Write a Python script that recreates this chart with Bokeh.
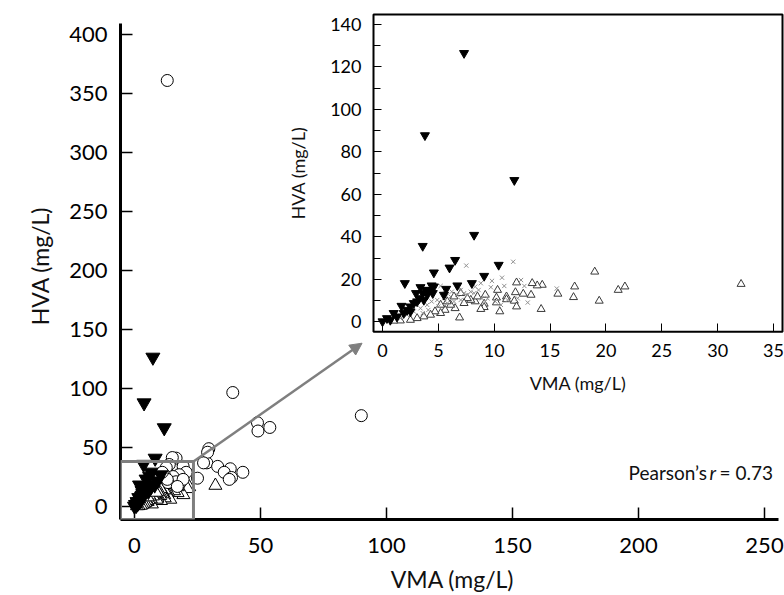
from bokeh.plotting import figure
from bokeh.models import (Range1d, LinearAxis, FixedTicker, BoxAnnotation, Arrow,
                          NormalHead, Label)
from bokeh.embed import file_html
from bokeh.resources import INLINE

# ---------------- data (mg/L) ----------------
down_vma = [7.3, 3.8, 11.8, 8.2, 3.6, 6.5, 6.0, 4.6, 10.4, 9.1, 2.0, 8.0, 6.7, 5.7, 4.4, 3.4,
            3.9, 5.5, 4.0, 4.5, 3.3, 2.8, 1.7, 2.2, 1.0, 0.4, 0.0, 1.3, 2.5, 3.1, 3.7, 1.9,
            3.6, 4.2, 0.7, 2.5, 4.6, 3.0]
down_hva = [126.5, 87.8, 66.7, 40.9, 35.7, 29.1, 25.5, 23.2, 26.8, 21.6, 18.2, 18.2, 17.1, 15.5,
            17.1, 16.3, 15.0, 12.7, 12.7, 13.5, 11.1, 8.8, 7.5, 5.6, 4.1, 1.7, 0.2, 2.5, 7.2,
            9.6, 10.3, 4.1, 13.5, 15.0, 0.9, 4.9, 16.6, 13.5]

up_vma = [32.1, 19.0, 21.7, 21.1, 19.4, 17.2, 17.1, 15.7, 14.3, 13.85, 13.4, 13.3, 12.6, 14.2,
          12.0, 11.9, 11.8, 12.0, 11.1, 11.1, 10.3, 10.2, 10.2, 10.5, 9.2, 9.1, 9.1, 8.8, 8.3,
          7.9, 7.6, 7.3, 6.9, 6.5, 6.1, 5.6, 5.2, 4.7, 4.3, 3.7, 3.1, 2.5, 1.6, 1.0, 6.4, 5.8,
          7.0, 5.2, 8.5]
up_hva = [17.8, 23.6, 16.6, 15.0, 9.9, 16.6, 11.6, 13.2, 17.4, 17.1, 18.2, 12.7, 13.2, 6.0,
          18.5, 13.9, 9.9, 7.2, 11.9, 10.6, 15.0, 11.4, 9.1, 4.9, 12.7, 8.5, 6.9, 6.0, 9.6,
          10.3, 11.1, 8.8, 2.0, 6.4, 8.0, 5.6, 4.1, 4.9, 3.3, 2.5, 1.7, 0.9, 0.6, 0.5, 11.9,
          9.6, 13.5, 8.0, 11.9]

cross_vma = [11.7, 7.5, 10.7, 9.8, 9.7, 12.4, 12.7, 13.0, 15.6, 10.9, 10.1, 8.8, 8.3, 5.2,
             10.6, 9.4, 8.6, 7.9, 7.3, 6.7, 6.1, 5.5, 4.9, 4.4, 4.0, 3.4, 2.8, 2.2, 1.6, 7.0,
             7.6, 8.2, 5.8, 6.4, 5.0, 4.1, 3.6, 8.9, 9.2, 11.2, 12.1, 7.0, 6.2, 5.6]
cross_hva = [28.3, 26.5, 20.8, 19.3, 16.3, 19.7, 16.9, 9.1, 15.7, 16.9, 9.6, 18.2, 16.6, 16.9,
             8.0, 11.1, 15.0, 14.2, 13.5, 12.7, 11.9, 11.1, 10.3, 9.6, 8.0, 6.4, 4.9, 3.3, 1.7,
             10.3, 12.7, 13.5, 8.8, 9.6, 7.2, 5.6, 4.1, 11.1, 9.6, 10.3, 11.1, 15.0, 14.2, 13.5]

circ_vma = [13, 39, 90, 48.8, 49, 53.7, 29.5, 28.7, 33, 38, 35.6, 38.5, 37.6, 43, 25, 16.5, 19,
            15, 13.8, 12.6, 19.3, 20.5, 17.7, 15.3, 11.8, 16.5, 19.3, 13.3, 29, 27.4, 17, 13, 11]
circ_hva = [361, 96.6, 77, 71, 64, 67, 49, 37, 34, 32, 29, 24.6, 23, 29, 24, 41, 29, 41.5, 35.6,
            33, 34, 29, 27, 25.4, 27, 21, 23, 20.3, 46, 37, 17, 23, 29]

main_xticks = [0, 50, 100, 150, 200, 250]
main_yticks = [0, 50, 100, 150, 200, 250, 300, 350, 400]
inset_xticks = [0, 5, 10, 15, 20, 25, 30, 35]
inset_yticks = [0, 20, 40, 60, 80, 100, 120, 140]
inset_yminor = [10, 30, 50, 70, 90, 110, 130]
x_label = "VMA (mg/L)"
y_label = "HVA (mg/L)"
pearson_r = "0.73"

# ---------------- layout (canvas pixels) ----------------
W, H = 784, 595
FL, FR, FT, FB = 120, 784, 12, 520         # main frame
X0, XS = 134, 2.52                          # pixel of x=0, px per unit
Y0, YS = 507, 1.1825                        # pixel of y=0, px per unit
x_start, x_end = (FL - X0) / XS, (FR - X0) / XS
y_start, y_end = -(FB - Y0) / YS, (Y0 - FT) / YS

IL, IR, IT, IB = 373, 782, 14, 332          # inset frame
IX0, IXS = 382, 11.171                      # inset pixel of x=0, px per unit
IY0, IYS = 322, 2.1286
INX = ((IL - IX0) / IXS, (IR - IX0) / IXS)
INY = (-(IB - IY0) / IYS, (IY0 - IT) / IYS)
ix_start = INX[0] - (IL - FL) / IXS
ix_end = INX[1] + (FR - IR) / IXS
iy_start = INY[0] - (FB - IB) / IYS
iy_end = INY[1] + (IT - FT) / IYS

FONT = "Lato"
TXT = "#111111"

p = figure(width=W, height=H, x_range=Range1d(x_start, x_end), y_range=Range1d(y_start, y_end),
           output_backend="svg", toolbar_location=None,
           min_border_left=FL, min_border_right=W - FR, min_border_top=FT, min_border_bottom=H - FB)
p.outline_line_color = None
p.grid.visible = False
p.background_fill_color = "white"
p.extra_x_ranges = {"ix": Range1d(ix_start, ix_end)}
p.extra_y_ranges = {"iy": Range1d(iy_start, iy_end)}

# main axes
for ax in (p.xaxis[0], p.yaxis[0]):
    ax.axis_line_width = 3
    ax.axis_line_color = "black"
    ax.major_tick_in = 12
    ax.major_tick_out = 0
    ax.major_tick_line_width = 1.5
    ax.minor_tick_line_color = None
    ax.major_label_text_font = FONT
    ax.major_label_text_font_size = "22px"
    ax.major_label_text_color = "black"
    ax.axis_label_text_font = FONT
    ax.axis_label_text_font_size = "23px"
    ax.axis_label_text_font_style = "normal"
    ax.axis_label_text_color = TXT
p.xaxis[0].ticker = FixedTicker(ticks=main_xticks)
p.xaxis[0].bounds = (x_start, (778 - X0) / XS)
p.xaxis[0].major_label_standoff = 18
p.xaxis[0].axis_label = x_label
p.xaxis[0].axis_label_standoff = 9
p.yaxis[0].ticker = FixedTicker(ticks=main_yticks)
p.yaxis[0].bounds = (y_start, (Y0 - 23) / YS)
p.yaxis[0].major_label_standoff = 13
p.yaxis[0].axis_label = y_label
p.yaxis[0].axis_label_standoff = 12

# main data
p.scatter(cross_vma, cross_hva, marker="x", size=8, line_color="#888888")
p.scatter(up_vma, up_hva, marker="triangle", size=13, fill_color="white", line_color="black",
          line_width=1)
p.scatter(circ_vma, circ_hva, marker="circle", size=12, fill_color="white", line_color="black",
          line_width=1)
p.scatter(down_vma, down_hva, marker="inverted_triangle", size=14, fill_color="black",
          line_color="black")

# zoom box and arrow
p.add_layout(BoxAnnotation(left=x_start, right=23.4, bottom=y_start, top=38.1, fill_alpha=0,
                           line_color="#7f7f7f", line_alpha=1, line_width=3))
p.add_layout(Arrow(end=NormalHead(size=12, fill_color="#7f7f7f", line_color="#7f7f7f"),
                   x_start=23.4, y_start=38.1, x_end=90.3, y_end=138.4,
                   line_color="#7f7f7f", line_width=2.5))

# Pearson
pe_y = (Y0 - 473) / YS
p.add_layout(Label(x=(628 - X0) / XS, y=pe_y, text="Pearson\u2019s", text_align="left",
                   text_baseline="middle", text_font=FONT, text_font_size="19px", text_color=TXT))
p.add_layout(Label(x=(709 - X0) / XS, y=pe_y, text="r", text_align="left", text_font_style="italic",
                   text_baseline="middle", text_font=FONT, text_font_size="19px", text_color=TXT))
p.add_layout(Label(x=(719 - X0) / XS, y=pe_y, text="= " + pearson_r, text_align="left",
                   text_baseline="middle", text_font=FONT, text_font_size="19px", text_color=TXT))

# ---------------- inset ----------------
p.add_layout(BoxAnnotation(left=INX[0], right=INX[1], bottom=INY[0], top=INY[1],
                           x_range_name="ix", y_range_name="iy", fill_color="white",
                           fill_alpha=1, line_color=None, level="underlay"))
p.add_layout(BoxAnnotation(left=INX[0], right=INX[1], bottom=INY[0], top=INY[1],
                           x_range_name="ix", y_range_name="iy", fill_alpha=0,
                           line_color="black", line_alpha=1, line_width=2))

p.scatter(up_vma, up_hva, marker="triangle", size=8, fill_color="white", line_color="#3a3a3a",
          x_range_name="ix", y_range_name="iy")
p.scatter(cross_vma, cross_hva, marker="x", size=6, line_color="#909090",
          x_range_name="ix", y_range_name="iy")
p.scatter(down_vma, down_hva, marker="inverted_triangle", size=9, fill_color="black",
          line_color="black", x_range_name="ix", y_range_name="iy")

iax = LinearAxis(x_range_name="ix", y_range_name="iy", fixed_location=INY[0], bounds=INX,
                 ticker=FixedTicker(ticks=inset_xticks))
iay = LinearAxis(x_range_name="ix", y_range_name="iy", fixed_location=INX[0], bounds=INY,
                 ticker=FixedTicker(ticks=inset_yticks, minor_ticks=inset_yminor))
for ax in (iax, iay):
    ax.axis_line_color = None
    ax.major_tick_in = 8
    ax.major_tick_out = 0
    ax.minor_tick_in = 7
    ax.minor_tick_out = 0
    ax.major_tick_line_width = 1
    ax.major_label_text_font = FONT
    ax.major_label_text_font_size = "18px"
    ax.major_label_text_color = "black"
    ax.major_label_standoff = 12
    ax.axis_label_text_font = FONT
    ax.axis_label_text_font_size = "18px"
    ax.axis_label_text_font_style = "normal"
    ax.axis_label_text_color = TXT
iax.minor_tick_line_color = None
iax.axis_label = x_label
iax.axis_label_standoff = 12
iay.axis_label = y_label
iay.axis_label_standoff = 18
p.add_layout(iax, "below")
p.add_layout(iay, "left")

open("out.html", "w").write(file_html(p, INLINE))
